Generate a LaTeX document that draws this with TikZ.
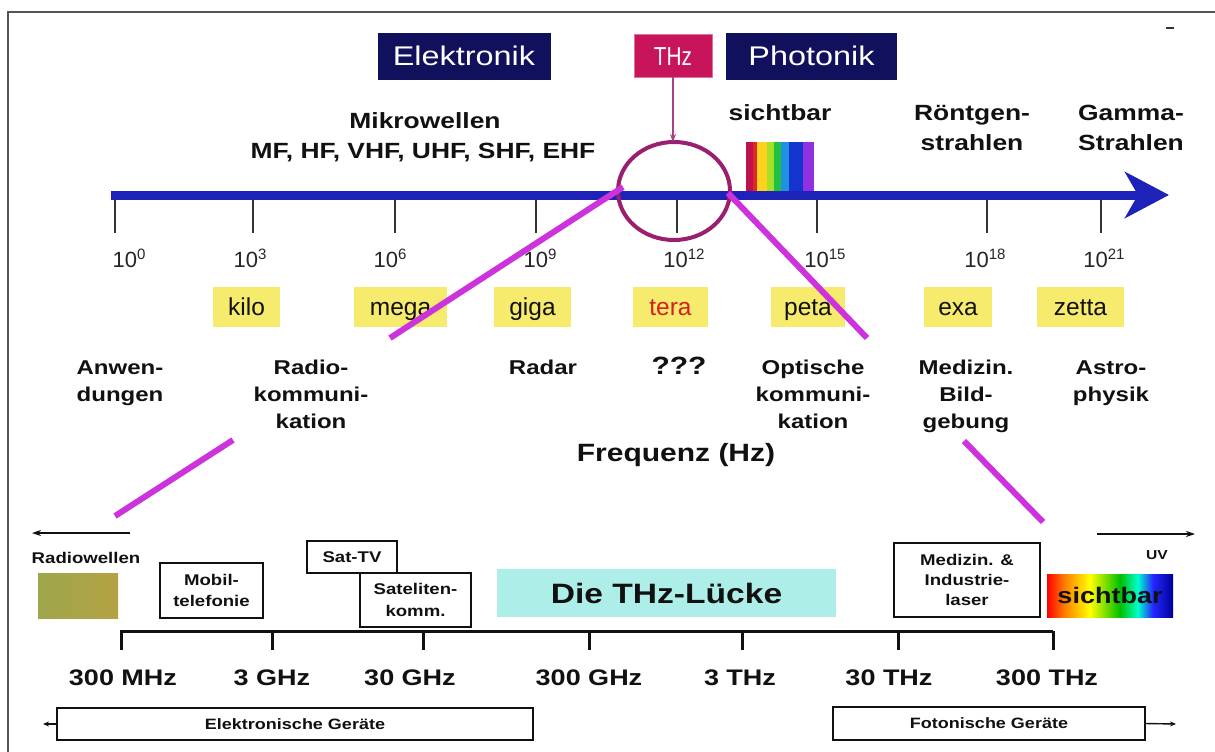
\documentclass[tikz,border=0pt]{standalone}
\usepackage{fontspec}
\setmainfont[FakeStretch=1.2]{Liberation Sans}
\newfontfamily\plainf{Liberation Sans}
\newfontfamily\condf[FakeStretch=0.8]{Liberation Sans}
\usetikzlibrary{arrows.meta,shapes.geometric}
\definecolor{axisblue}{HTML}{1E22B8}
\definecolor{navy}{HTML}{10105C}
\definecolor{thzred}{HTML}{C8145A}
\definecolor{ringc}{HTML}{9A1F6E}
\definecolor{zoomc}{HTML}{CC33DD}
\definecolor{prefy}{HTML}{F7EB6E}
\definecolor{gapc}{HTML}{AEEEE8}
\definecolor{terared}{HTML}{D42020}
\definecolor{inkc}{HTML}{111111}
\definecolor{framec}{HTML}{555555}
\definecolor{olivea}{HTML}{9FA64C}
\definecolor{oliveb}{HTML}{B3A243}
\definecolor{sa}{HTML}{C0104A}
\definecolor{sb}{HTML}{E02828}
\definecolor{sc}{HTML}{FFD21E}
\definecolor{sd}{HTML}{A8E028}
\definecolor{se}{HTML}{22C040}
\definecolor{sf}{HTML}{2090E0}
\definecolor{sg}{HTML}{1434D0}
\definecolor{sh}{HTML}{9030E0}
\pgfdeclarehorizontalshading{visshade}{100bp}{color(0bp)=(red); color(25bp)=(red); color(32bp)=(orange); color(42bp)=(yellow); color(54bp)=(green!75!black); color(61bp)=(cyan!80!green); color(67bp)=(blue!85); color(75bp)=(blue!60!black); color(100bp)=(blue!60!black)}
\begin{document}
\begin{tikzpicture}[x=1pt,y=-1pt,
  every node/.style={inner sep=0pt, outer sep=0pt, text=inkc},
  navybox/.style={fill=navy, text=white, minimum width=173, minimum height=47, font=\fontsize{27}{30}\selectfont, text height=19, text depth=0},
  toplbl/.style={anchor=base, align=center, font=\bfseries\fontsize{22}{30}\selectfont},
  explbl/.style={anchor=base, font=\plainf\fontsize{22}{24}\selectfont, text=black!85},
  prefbox/.style={fill=prefy, minimum height=40, text height=18, text depth=2, font=\plainf\fontsize{24.5}{26}\selectfont},
  applbl/.style={anchor=base, align=center, font=\bfseries\fontsize{20}{27}\selectfont},
  freqlbl/.style={anchor=base, font=\bfseries\fontsize{22.5}{24}\selectfont},
  smallbox/.style={draw=inkc, line width=1.6, fill=white, align=center, font=\bfseries\fontsize{15.5}{21}\selectfont},
  devbox/.style={draw=inkc, line width=1.6, fill=white, font=\bfseries\fontsize{15}{18}\selectfont},
  thinarrow/.style={draw=inkc, line width=1.4, -{Stealth[length=9pt,width=6pt]}},
  zoomline/.style={draw=zoomc, line width=6},
  tick/.style={draw=black!80, line width=2},
  btick/.style={draw=inkc, line width=3}
]
\useasboundingbox (0,0) rectangle (1215,752);
\fill[white] (0,0) rectangle (1215,752);
% frame
\draw[framec, line width=1.5] (8,752) -- (8,12) -- (1215,12);
\draw[black!80, line width=2.5] (1166,28) -- (1174,28);

% header boxes
\node[navybox] (elek) at (464,56.5) {Elektronik};
\node[navybox, minimum width=171] (phot) at (811.5,56.5) {Photonik};
\node[fill=thzred, draw=thzred!60!white, line width=1, minimum width=78, minimum height=42, text height=19, text depth=0, text=white, font=\condf\fontsize{26}{28}\selectfont] (thz) at (673,56) {THz};

% top labels (base = last line)
\node[toplbl] (mikro) at (425,128) {Mikrowellen};
\node[toplbl] (mf) at (423,158) {MF, HF, VHF, UHF, SHF, EHF};
\node[toplbl] (vistop) at (780,120) {sichtbar};
\node[toplbl] (roe) at (972,150) {Röntgen-\\strahlen};
\node[toplbl] (gam) at (1131,150) {Gamma-\\Strahlen};

% spectrum bars
\fill[sa] (746,142) rectangle (753,191);
\fill[sb] (753,142) rectangle (757,191);
\fill[sc] (757,142) rectangle (767,191);
\fill[sd] (767,142) rectangle (774,191);
\fill[se] (774,142) rectangle (781,191);
\fill[sf] (781,142) rectangle (789,191);
\fill[sg] (789,142) rectangle (803,191);
\fill[sh] (803,142) rectangle (814,191);

% main axis
\coordinate (axL) at (111,195);
\coordinate (axR) at (1169,195);
\draw[axisblue, line width=9, -{Stealth[length=44pt,width=46pt,inset=13pt]}] (axL) -- (axR);
\foreach \x in {115,253,395,536,677,817,987,1101} \draw[tick] (\x,200) -- (\x,233);

% exponent labels
\foreach \x/\e/\n in {129/0/e0,250/3/e3,390/6/e6,540/9/e9,684/12/e12,825/15/e15,985/18/e18,1104/21/e21}
  \node[explbl] (\n) at (\x,267) {10\raisebox{8pt}{\fontsize{15}{15}\selectfont\e}};

% THz ring
\node[draw=ringc, line width=4, ellipse, minimum width=112, minimum height=98] (ring) at (674,191) {};
\draw[draw=ringc!85!white, line width=1.5, -{Stealth[length=8pt,width=6pt]}] (thz.south) -- (thz.south |- ring.north);

% prefixes
\node[prefbox, minimum width=67] (kilo) at (246.5,307) {kilo};
\node[prefbox, minimum width=93] (mega) at (400.5,307) {mega};
\node[prefbox, minimum width=77] (giga) at (532.5,307) {giga};
\node[prefbox, minimum width=75, text=terared] (tera) at (670.5,307) {tera};
\node[prefbox, minimum width=74] (peta) at (808,307) {peta};
\node[prefbox, minimum width=68] (exa) at (958,307) {exa};
\node[prefbox, minimum width=87] (zetta) at (1080.5,307) {zetta};

% zoom lines
\coordinate (zl1) at (623,187);
\coordinate (zl2) at (390,338);
\coordinate (zl3) at (233,440);
\coordinate (zl4) at (115,516);
\coordinate (zr1) at (728,193);
\coordinate (zr2) at (867,338);
\coordinate (zr3) at (964,441);
\coordinate (zr4) at (1043,522);
\draw[zoomline] (zl1) -- (zl2);
\draw[zoomline] (zl3) -- (zl4);
\draw[zoomline] (zr1) -- (zr2);
\draw[zoomline] (zr3) -- (zr4);

% applications (base = last line)
\node[applbl] (anw) at (120,401) {Anwen-\\dungen};
\node[applbl] (radio) at (311,428) {Radio-\\kommuni-\\kation};
\node[applbl] (radar) at (543,374) {Radar};
\node[applbl, font=\bfseries\fontsize{25}{27}\selectfont] (qqq) at (679,374) {???};
\node[applbl] (opt) at (813,428) {Optische\\kommuni-\\kation};
\node[applbl] (med) at (966,428) {Medizin.\\Bild-\\gebung};
\node[applbl] (astro) at (1111,401) {Astro-\\physik};
\node[anchor=base, font=\bfseries\fontsize{25}{27}\selectfont] (freq) at (676,461) {Frequenz (Hz)};

% bottom section
\coordinate (raL1) at (130,533);
\coordinate (raL2) at (32,533);
\draw[thinarrow] (raL1) -- (raL2);
\coordinate (uv1) at (1097,534);
\coordinate (uv2) at (1195,534);
\draw[thinarrow] (uv1) -- (uv2);
\node[anchor=base, font=\bfseries\fontsize{15.5}{18}\selectfont] (radw) at (86,563) {Radiowellen};
\node[anchor=base, font=\bfseries\fontsize{13}{15}\selectfont] (uv) at (1157,559) {UV};
\node[minimum width=80, minimum height=45, left color=olivea, right color=oliveb] (radtex) at (78,595.5) {};

\node[smallbox, minimum width=103, minimum height=55] (mobil) at (211.5,590.5) {Mobil-\\telefonie};
\node[smallbox, minimum width=90, minimum height=32] (sattv) at (352,557) {Sat-TV};
\node[smallbox, minimum width=111, minimum height=54, font=\bfseries\fontsize{15.5}{22}\selectfont] (satk) at (415.5,600) {Sateliten-\\komm.};
\node[fill=gapc, minimum width=339, minimum height=48, font=\bfseries\fontsize{28}{30}\selectfont, text height=20, text depth=0] (gap) at (666.5,593) {Die THz-Lücke};
\node[smallbox, minimum width=146, minimum height=74, font=\bfseries\fontsize{15.5}{20}\selectfont] (medl) at (967,580) {Medizin. \&\\Industrie-\\laser};
\node[shading=visshade, minimum width=126, minimum height=43, font=\bfseries\fontsize{22.5}{24}\selectfont, text height=16, text depth=0] (visb) at (1110,595.5) {sichtbar};

% bottom axis
\draw[btick] (120,631) -- (1053,631);
\foreach \x in {121,272,423,589,742,898,1053} \draw[btick] (\x,631) -- (\x,650);
\foreach \x/\t/\n in {123/300 MHz/b1,272/3 GHz/b2,410/30 GHz/b3,589/300 GHz/b4,740/3 THz/b5,889/30 THz/b6,1047/300 THz/b7}
  \node[freqlbl] (\n) at (\x,685) {\t};

% device boxes
\node[devbox, minimum width=476, minimum height=32] (elg) at (295,724) {Elektronische Geräte};
\node[devbox, minimum width=312, minimum height=33] (fog) at (989,723.5) {Fotonische Geräte};
\coordinate (elgL) at (43,724);
\coordinate (fogR) at (1176,724);
\draw[draw=inkc, line width=1.4, -{Stealth[length=6pt,width=5pt]}] (elg.west) -- (elgL);
\draw[draw=inkc, line width=1.4, -{Stealth[length=6pt,width=5pt]}] (fog.east) -- (fogR);
\end{tikzpicture}
\end{document}
